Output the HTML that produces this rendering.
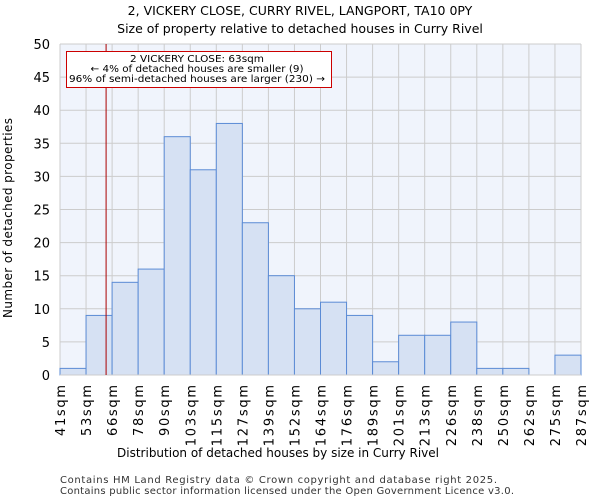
<!DOCTYPE html>
<html><head><meta charset="utf-8"><style>body{margin:0;background:#fff}svg{display:block;font-family:"DejaVu Sans","Liberation Sans",sans-serif}</style></head>
<body>
<svg id="c" width="600" height="500">
<text x="300" y="15" text-anchor="middle" font-size="12.5">2, VICKERY CLOSE, CURRY RIVEL, LANGPORT, TA10 0PY</text>
<text x="300" y="33" text-anchor="middle" font-size="12.5">Size of property relative to detached houses in Curry Rivel</text>
<rect x="60" y="44" width="521" height="331" fill="#f0f4fc"/>
<g id="grid"></g><g id="bars"></g><g id="axes"></g>
<text x="278" y="457" text-anchor="middle" font-size="12">Distribution of detached houses by size in Curry Rivel</text>
<text transform="translate(12,218) rotate(-90)" text-anchor="middle" font-size="12" textLength="200" lengthAdjust="spacing">Number of detached properties</text>
<text x="60" y="483" font-size="10" fill="#333" textLength="437" lengthAdjust="spacing">Contains HM Land Registry data © Crown copyright and database right 2025.</text>
<text x="60" y="494" font-size="10" fill="#333" textLength="454" lengthAdjust="spacing">Contains public sector information licensed under the Open Government Licence v3.0.</text>
</svg>
<script>
const categories=["41sqm","53sqm","66sqm","78sqm","90sqm","103sqm","115sqm","127sqm","139sqm","152sqm","164sqm","176sqm","189sqm","201sqm","213sqm","226sqm","238sqm","250sqm","262sqm","275sqm","287sqm"];
const counts=[1,9,14,16,36,31,38,23,15,10,11,9,2,6,6,8,1,1,0,3];
const yTicks=[0,5,10,15,20,25,30,35,40,45,50];
const edgeValues=[41,53,66,78,90,103,115,127,139,152,164,176,189,201,213,226,238,250,262,275,287];
const markerValue=63;
const NS="http://www.w3.org/2000/svg";
const X0=60,X1=581,Y0=375,Y1=44;
const bw=(X1-X0)/counts.length;
const xi=i=>X0+i*bw;
const y=v=>Y0-(v/50)*(Y0-Y1);
function xv(v){for(let i=0;i<edgeValues.length-1;i++){if(v<=edgeValues[i+1])return xi(i)+(v-edgeValues[i])/(edgeValues[i+1]-edgeValues[i])*bw;}return X1;}
function mk(t,a,p){const e=document.createElementNS(NS,t);for(const k in a)e.setAttribute(k,a[k]);p.appendChild(e);return e;}
const g=document.getElementById('grid'),b=document.getElementById('bars'),ax=document.getElementById('axes');
yTicks.forEach(t=>{const l=mk('line',{x1:X0,x2:X1,y1:y(t),y2:y(t),stroke:'#ccc','stroke-width':1},g);


const tx=mk('text',{x:50,y:y(t)+5,'text-anchor':'end','font-size':13},ax);tx.textContent=t;

});
categories.forEach((c,i)=>{const l=mk('line',{x1:xi(i),x2:xi(i),y1:Y1,y2:Y0,stroke:'#ccc','stroke-width':1},g);


const tx=mk('text',{transform:`translate(${xi(i)+5},385) rotate(-90)`,'text-anchor':'end','font-size':13,textLength:c.length*10.2,lengthAdjust:'spacing'},ax);tx.textContent=c;

});
counts.forEach((v,i)=>{if(v<=0)return;const r=mk('rect',{x:xi(i),y:y(v),width:bw,height:Y0-y(v),fill:'#d6e1f3',stroke:'#5b8bd5','stroke-width':1},b);

});
const bl=mk('line',{x1:X0,x2:X1,y1:Y0,y2:Y0,stroke:'#ccc','stroke-width':1},ax);


const mx=xv(markerValue);
const ml=mk('line',{x1:mx,x2:mx,y1:Y1,y2:Y0,stroke:'#aa0000','stroke-width':1},ax);


const box=mk('rect',{x:66.5,y:51.5,width:265,height:36,fill:'#fff',stroke:'#cc0000','stroke-width':1},ax);


const lens=[134,213,256];
["2 VICKERY CLOSE: 63sqm","← 4% of detached houses are smaller (9)","96% of semi-detached houses are larger (230) →"].forEach((s,i)=>{const t=mk('text',{x:197,y:62+i*10,'text-anchor':'middle','font-size':10,textLength:lens[i],lengthAdjust:'spacingAndGlyphs'},ax);t.textContent=s;

});
</script>
</body></html>
